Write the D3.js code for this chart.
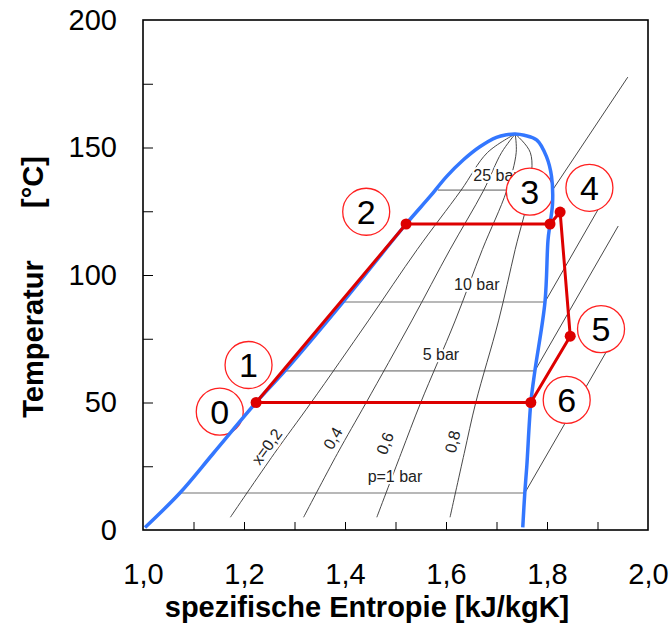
<!DOCTYPE html>
<html>
<head>
<meta charset="utf-8">
<script src="https://cdn.jsdelivr.net/npm/d3@7"></script>
<style>
	body { margin: 0; background: #fff; }
	svg { font-family: "Liberation Sans", Arial, sans-serif; }
</style>
</head>
<body>
<div id="tsdiagram"></div>
<script>

// Saettigungslinie: links siedende Fluessigkeit, oben kritischer Punkt, rechts Sattdampf
var domeS = [1.004, 1.073, 1.139, 1.224, 1.281, 1.396, 1.521, 1.568, 1.601, 1.634, 1.667, 1.700, 1.720, 1.737, 1.755, 1.780, 1.799, 1.809, 1.811, 1.806, 1.802, 1.796, 1.776, 1.768, 1.760, 1.756, 1.752];
var domeT = [1, 14.5, 30, 50, 62.4, 89.4, 120, 130.7, 138.6, 145.1, 150.3, 154.0, 155.0, 155.3, 154.8, 152.9, 146.4, 138.6, 128.1, 120, 113.7, 89.4, 62.4, 50, 25, 14.5, 1];

// Linien konstanten Dampfgehalts x
var qualNames = ["x=0,2", "0,4", "0,6", "0,8"];
var qualT = [5, 30, 50, 82, 110, 133, 148, 155.3];
var qual02 = [1.173, 1.260, 1.333, 1.446, 1.543, 1.629, 1.682, 1.737];
var qual04 = [1.318, 1.385, 1.442, 1.532, 1.608, 1.674, 1.710, 1.737];
var qual06 = [1.463, 1.511, 1.550, 1.618, 1.672, 1.720, 1.739, 1.737];
var qual08 = [1.608, 1.636, 1.659, 1.704, 1.737, 1.765, 1.767, 1.737];
var qualLabelS = [1.245, 1.376, 1.479, 1.613];
var qualLabelT = [32.7, 36.0, 34.0, 34.6];
var qualLabelAngle = [-54, -60, -69, -77];

// Isobaren: waagerecht im Nassdampfgebiet, dann schraeg ins Heissdampfgebiet
var isoNames = ["p=1 bar", "5 bar", "10 bar", "25 bar"];
var isoT = [14.5, 62.4, 89.4, 133.3];
var isoSl = [1.073, 1.281, 1.396, 1.584];
var isoSv = [1.756, 1.776, 1.796, 1.811];
var isoEndS = [1.925, 1.941, 1.905, 1.960];
var isoEndT = [72.5, 119.2, 127, 177.6];
var isoLabelS = [1.499, 1.590, 1.661, 1.699];
var isoLabelT = [18.8, 66.7, 94.1, 136.9];

// Kreisprozess 0 -> 2 -> 3 -> 4 -> 5 -> 6 -> 0
var cycleS = [1.224, 1.521, 1.806, 1.826, 1.846, 1.768];
var cycleT = [50, 120, 120, 124.7, 76, 50];

// Zustandsnummern
var stateNames = ["0", "1", "2", "3", "4", "5", "6"];
var stateS = [1.152, 1.209, 1.442, 1.766, 1.884, 1.907, 1.839];
var stateT = [46.4, 64.7, 124.8, 132.7, 134.2, 78.8, 51.0];

// Achsen
var xTicks = [1.0, 1.2, 1.4, 1.6, 1.8, 2.0];
var xMinor = [1.1, 1.2, 1.3, 1.4, 1.5, 1.6, 1.7, 1.8, 1.9];
var yTicks = [0, 50, 100, 150, 200];
var yMinor = [25, 50, 75, 100, 125, 150, 175];

var margin = {top: 20, right: 21, bottom: 103, left: 143},
	width = 669 - margin.left - margin.right,
	height = 633 - margin.top - margin.bottom;

var x = d3.scaleLinear().domain([1, 2]).range([0, width]);
var y = d3.scaleLinear().domain([0, 200]).range([height, 0]);

var svg = d3.select("#tsdiagram").append("svg")
	.attr("width", 669)
	.attr("height", 633);

var g = svg.append("g")
	.attr("transform", "translate(" + margin.left + "," + margin.top + ")");

var line = d3.line()
	.x(function(d) { return x(d[0]); })
	.y(function(d) { return y(d[1]); });

var smooth = d3.line()
	.x(function(d) { return x(d[0]); })
	.y(function(d) { return y(d[1]); })
	.curve(d3.curveCatmullRom.alpha(0.5));

// Isobaren
for (var i = 0; i < isoT.length; i++) {
	g.append("path")
		.datum([[isoSl[i], isoT[i]], [isoSv[i], isoT[i]]])
		.attr("d", line)
		.attr("fill", "none")
		.attr("stroke", "#a0a0a0")
		.attr("stroke-width", 1.6);
	g.append("path")
		.datum([[isoSv[i], isoT[i]], [isoEndS[i], isoEndT[i]]])
		.attr("d", line)
		.attr("fill", "none")
		.attr("stroke", "#333")
		.attr("stroke-width", 0.9);
}

// Dampfgehaltslinien
var quals = [qual02, qual04, qual06, qual08];
quals.forEach(function(q) {
	g.append("path")
		.datum(q.map(function(s, j) { return [s, qualT[j]]; }))
		.attr("d", smooth)
		.attr("fill", "none")
		.attr("stroke", "#333")
		.attr("stroke-width", 0.9);
});

// Beschriftungen mit weissem Rand
var labels = g.append("g")
	.attr("font-size", 16)
	.attr("fill", "#222");

isoNames.forEach(function(t, i) {
	labels.append("text")
		.attr("x", x(isoLabelS[i]))
		.attr("y", y(isoLabelT[i]))
		.attr("text-anchor", "middle")
		.attr("stroke", "#fff")
		.attr("stroke-width", 4)
		.attr("paint-order", "stroke")
		.text(t);
});

qualNames.forEach(function(t, i) {
	labels.append("text")
		.attr("transform", "translate(" + x(qualLabelS[i]) + "," + y(qualLabelT[i]) + ") rotate(" + qualLabelAngle[i] + ")")
		.attr("text-anchor", "middle")
		.attr("dy", "0.35em")
		.attr("stroke", "#fff")
		.attr("stroke-width", 4)
		.attr("paint-order", "stroke")
		.text(t);
});

// Kreise der Zustandspunkte
var states = g.append("g");
stateNames.forEach(function(t, i) {
	states.append("circle")
		.attr("cx", x(stateS[i]))
		.attr("cy", y(stateT[i]))
		.attr("r", 23.5)
		.attr("fill", "#fff")
		.attr("stroke", "#ff2020")
		.attr("stroke-width", 1.3);
	states.append("text")
		.attr("x", x(stateS[i]))
		.attr("y", y(stateT[i]))
		.attr("dy", "0.36em")
		.attr("text-anchor", "middle")
		.attr("font-size", 34)
		.attr("fill", "#000")
		.text(t);
});

// Saettigungslinie
g.append("path")
	.datum(domeS.map(function(s, j) { return [s, domeT[j]]; }))
	.attr("d", smooth)
	.attr("fill", "none")
	.attr("stroke", "#3377ff")
	.attr("stroke-width", 3.5);

// Kreisprozess
var cyc = cycleS.map(function(s, j) { return [s, cycleT[j]]; });
g.append("path")
	.datum(cyc.concat([cyc[0]]))
	.attr("d", line)
	.attr("fill", "none")
	.attr("stroke", "#dd0000")
	.attr("stroke-width", 3)
	.attr("stroke-linejoin", "round");

g.selectAll(".dot")
	.data(cyc)
	.enter().append("circle")
	.attr("class", "dot")
	.attr("cx", function(d) { return x(d[0]); })
	.attr("cy", function(d) { return y(d[1]); })
	.attr("r", 5.5)
	.attr("fill", "#dd0000");

// Achsen
var fmt = function(d) { return d.toFixed(1).replace(".", ","); };

g.append("g")
	.attr("transform", "translate(0," + height + ")")
	.call(d3.axisBottom(x).tickValues(xMinor).tickSize(-8).tickFormat(""))
	.call(function(a) { a.select(".domain").remove(); });

g.append("g")
	.call(d3.axisLeft(y).tickValues(yMinor).tickSize(-10).tickFormat(""))
	.call(function(a) { a.select(".domain").remove(); });

g.append("g")
	.attr("transform", "translate(0," + height + ")")
	.call(d3.axisBottom(x).tickValues(xTicks).tickSize(0).tickPadding(33).tickFormat(fmt))
	.call(function(a) {
		a.select(".domain").remove();
		a.selectAll("text").attr("font-size", 29).attr("font-family", null).attr("fill", "#000");
	});

g.append("g")
	.call(d3.axisLeft(y).tickValues(yTicks).tickSize(0).tickPadding(26))
	.call(function(a) {
		a.select(".domain").remove();
		a.selectAll("text").attr("font-size", 29).attr("font-family", null).attr("fill", "#000");
	});

g.selectAll(".tick line").attr("stroke", "#000");

// Rahmen
g.append("rect")
	.attr("width", width)
	.attr("height", height)
	.attr("fill", "none")
	.attr("stroke", "#000")
	.attr("stroke-width", 1.6);

// Achsentitel
svg.append("text")
	.attr("x", 367)
	.attr("y", 617)
	.attr("text-anchor", "middle")
	.attr("font-size", 29)
	.attr("font-weight", "bold")
	.text("spezifische Entropie [kJ/kgK]");

svg.append("text")
	.attr("transform", "translate(43,339) rotate(-90)")
	.attr("text-anchor", "middle")
	.attr("font-size", 29)
	.attr("font-weight", "bold")
	.text("Temperatur");

svg.append("text")
	.attr("transform", "translate(43,182) rotate(-90)")
	.attr("text-anchor", "middle")
	.attr("font-size", 29)
	.attr("font-weight", "bold")
	.text("[°C]");

</script>
</body>
</html>
